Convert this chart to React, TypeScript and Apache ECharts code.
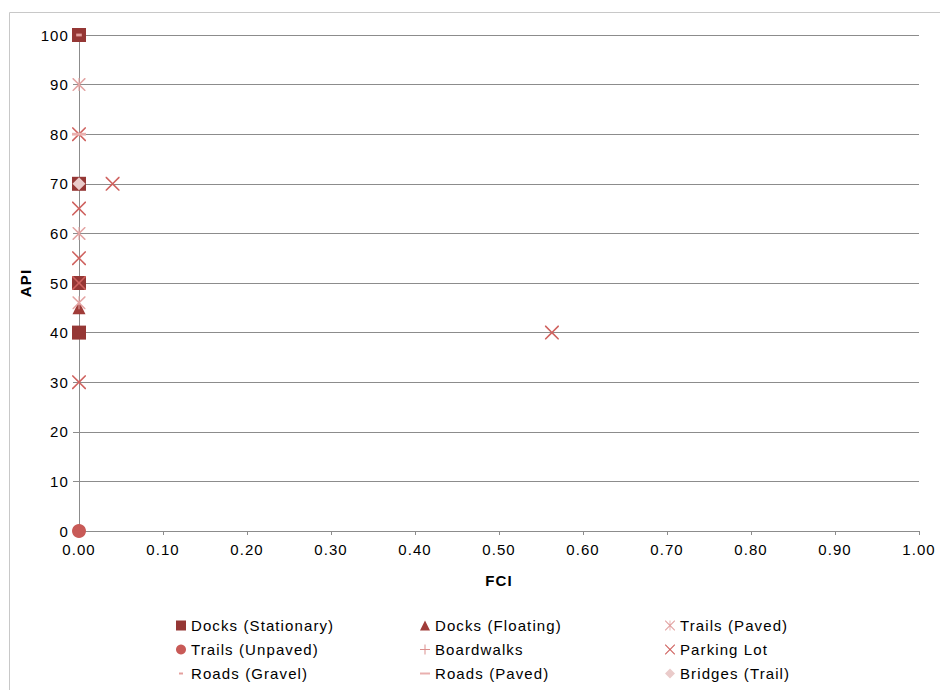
import React, { useEffect, useRef } from "react";
import * as echarts from "echarts";

const seriesNames = [
  "Docks (Stationary)",
  "Docks (Floating)",
  "Trails (Paved)",
  "Trails (Unpaved)",
  "Boardwalks",
  "Parking Lot",
  "Roads (Gravel)",
  "Roads (Paved)",
  "Bridges (Trail)",
];

const docksStationary = [[0, 100], [0, 70], [0, 50], [0, 40]];
const docksFloating = [[0, 45]];
const trailsPaved = [[0, 90], [0, 60], [0, 46]];
const trailsUnpaved = [[0, 0]];
const boardwalks: number[][] = [];
const parkingLot = [[0, 80], [0, 65], [0, 55], [0, 50], [0, 30], [0.04, 70], [0.563, 40]];
const roadsGravel = [[0, 100]];
const roadsPaved = [[0, 80]];
const bridgesTrail = [[0, 70]];

const yTicks = [0, 10, 20, 30, 40, 50, 60, 70, 80, 90, 100];

const X_PATH =
  "path://M0,0 L0.8,0 L5,4.2 L9.2,0 L10,0 L10,0.8 L5.8,5 L10,9.2 L10,10 L9.2,10 L5,5.8 L0.8,10 L0,10 L0,9.2 L4.2,5 L0,0.8 Z";
const STAR_PATH =
  "path://M0,0 L0.8,0 L5,4.2 L9.2,0 L10,0 L10,0.8 L5.8,5 L10,9.2 L10,10 L9.2,10 L5,5.8 L0.8,10 L0,10 L0,9.2 L4.2,5 L0,0.8 Z M4.6,0 L5.4,0 L5.4,10 L4.6,10 Z";
const PLUS_PATH =
  "path://M4.5,0 L5.5,0 L5.5,4.5 L10,4.5 L10,5.5 L5.5,5.5 L5.5,10 L4.5,10 L4.5,5.5 L0,5.5 L0,4.5 L4.5,4.5 Z";
const SHORT_DASH = "path://M0,0 M10,10 M3,4 L7,4 L7,6 L3,6 Z";
const LONG_DASH = "path://M0,0 M10,10 M0,4 L10,4 L10,6 L0,6 Z";

export default function App() {
  const ref = useRef<HTMLDivElement>(null);

  useEffect(() => {
    if (!ref.current) return;
    const chart = echarts.init(ref.current, null, { renderer: "svg" });
    const font = "Liberation Sans, Arial, sans-serif";

    const mk = (
      name: string,
      data: number[][],
      symbol: string,
      size: number | number[],
      color: string
    ) => ({
      name,
      type: "scatter",
      data,
      symbol,
      symbolSize: size,
      itemStyle: { color, opacity: 1 },
      emphasis: { disabled: true },
    });

    const legendCommon = {
      orient: "vertical",
      itemWidth: 10,
      itemHeight: 10,
      itemGap: 9,
      height: 80,
      padding: 0,
      selectedMode: false,
      textStyle: { fontFamily: font, fontSize: 15, color: "#000" },
    };

    chart.setOption({
      animation: false,
      backgroundColor: "#fff",
      grid: { left: 79, right: 21, top: 35, bottom: 159, containLabel: false },
      xAxis: {
        type: "value",
        min: 0,
        max: 1,
        interval: 0.1,
        name: "FCI",
        nameLocation: "middle",
        nameGap: 42,
        nameTextStyle: { fontFamily: font, fontSize: 15, fontWeight: "bold", color: "#000" },
        axisLine: { show: true, onZero: false, lineStyle: { color: "#8C8C8C", width: 1 } },
        axisTick: { show: true, length: 4, lineStyle: { color: "#8C8C8C" } },
        axisLabel: {
          fontFamily: font,
          fontSize: 15,
          color: "#000",
          margin: 11,
          formatter: (v: number) => v.toFixed(2),
        },
        splitLine: { show: false },
      },
      yAxis: {
        type: "value",
        min: 0,
        max: 100,
        interval: 10,
        name: "API",
        nameLocation: "middle",
        nameGap: 34,
        nameRotate: 90,
        nameTextStyle: { fontFamily: font, fontSize: 15, fontWeight: "bold", color: "#000" },
        axisLine: { show: true, onZero: false, lineStyle: { color: "#8C8C8C", width: 1 } },
        axisTick: { show: true, length: 6, lineStyle: { color: "#8C8C8C" } },
        axisLabel: {
          fontFamily: font,
          fontSize: 15,
          color: "#000",
          margin: 10,
          formatter: (v: number) => (yTicks.includes(v) ? String(v) : ""),
        },
        splitLine: { show: true, lineStyle: { color: "#8C8C8C", width: 1 } },
      },
      legend: [
        { ...legendCommon, left: 176, top: 618, data: [seriesNames[0], seriesNames[3], seriesNames[6]] },
        { ...legendCommon, left: 420, top: 618, data: [seriesNames[1], seriesNames[4], seriesNames[7]] },
        { ...legendCommon, left: 665, top: 618, data: [seriesNames[2], seriesNames[5], seriesNames[8]] },
      ],
      graphic: [
        {
          type: "rect",
          shape: { x: 9.5, y: 12.5, width: 960, height: 700 },
          style: { fill: "none", stroke: "#C8C8C8", lineWidth: 1 },
          silent: true,
          z: -10,
        },
      ],
      series: [
        mk(seriesNames[0], docksStationary, "rect", 14, "#953735"),
        mk(seriesNames[1], docksFloating, "triangle", 13, "#A03C39"),
        mk(seriesNames[2], trailsPaved, STAR_PATH, 13, "#E3A3A2"),
        mk(seriesNames[3], trailsUnpaved, "circle", 14, "#C85A57"),
        mk(seriesNames[4], boardwalks, PLUS_PATH, 13, "#DC8F8D"),
        mk(seriesNames[5], parkingLot, X_PATH, 14, "#CF625F"),
        mk(seriesNames[6], roadsGravel, SHORT_DASH, 14, "#E4A09E"),
        mk(seriesNames[7], roadsPaved, LONG_DASH, 14, "#E9B0AF"),
        mk(seriesNames[8], bridgesTrail, "diamond", 13, "#EACBCA"),
      ],
    });

    return () => chart.dispose();
  }, []);

  return (
    <>
      <style>{"#chart-box text { letter-spacing: 1.1px; }"}</style>
      <div
        id="chart-box"
        ref={ref}
        style={{ position: "fixed", left: 0, top: 0, width: 940, height: 690 }}
      />
    </>
  );
}
